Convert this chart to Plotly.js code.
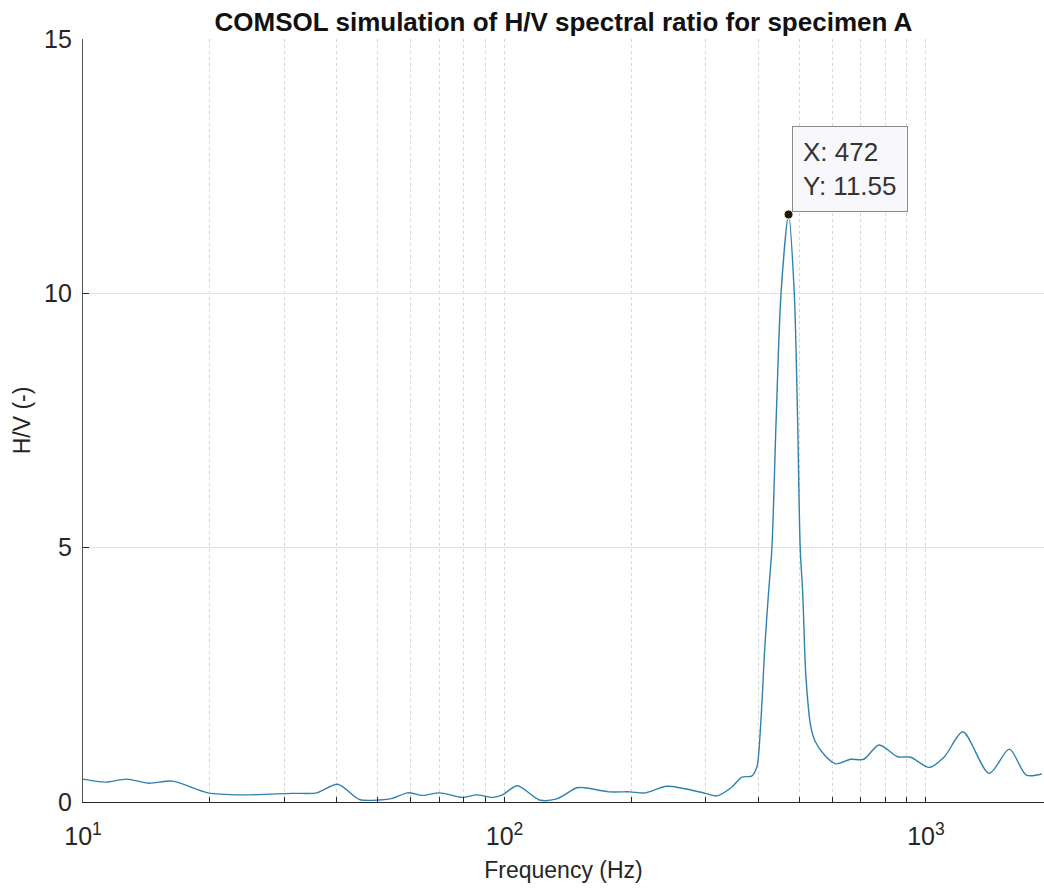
<!DOCTYPE html>
<html>
<head>
<meta charset="utf-8">
<script src="https://cdn.plot.ly/plotly-3.0.1.min.js"></script>
<style>html,body{margin:0;padding:0;background:#fff;}#chart{width:1044px;height:888px;}</style>
</head>
<body>
<div id="chart"></div>
<script>
// Frequency (Hz) and H/V spectral ratio
const freq = [10, 11.3, 12.7, 14.3, 16.3, 19.8, 23.9, 31.4, 35.9, 40.2, 45.3, 50.6, 54.2, 58.9, 64, 70.1, 79.5, 85.9, 93.7, 98.9, 107.3, 121, 133, 148.5, 155, 177, 198, 216, 243, 300, 319, 346, 366, 386, 397, 405, 415, 423, 431, 441, 453, 472, 487, 496, 503, 510, 519, 533, 546, 575, 611, 662, 712, 774, 856, 920, 1018, 1106, 1223, 1412, 1577, 1729, 1883];
const hv = [0.45, 0.39, 0.45, 0.37, 0.41, 0.18, 0.14, 0.17, 0.18, 0.35, 0.05, 0.04, 0.07, 0.18, 0.13, 0.18, 0.09, 0.14, 0.09, 0.14, 0.32, 0.04, 0.06, 0.28, 0.28, 0.2, 0.2, 0.18, 0.31, 0.17, 0.12, 0.29, 0.49, 0.51, 0.69, 1.48, 3.1, 4.1, 5.0, 7.5, 10.0, 11.55, 10.0, 7.5, 5.0, 4.1, 2.46, 1.48, 1.19, 0.92, 0.75, 0.84, 0.84, 1.12, 0.89, 0.88, 0.68, 0.89, 1.38, 0.56, 1.04, 0.53, 0.55];
const peakIndex = 41; // data tip point (X: 472, Y: 11.55)
const gridFreqs = [10,20,30,40,50,60,70,80,90,100,200,300,400,500,600,700,800,900,1000];
const decadeLabels = {10: '10<sup>1</sup>', 100: '10<sup>2</sup>', 1000: '10<sup>3</sup>'};
const titleText = 'COMSOL simulation of H/V spectral ratio for specimen A';
const xTitle = 'Frequency (Hz)';
const yTitle = 'H/V (-)';
const yTicks = [0, 5, 10, 15];

const font = 'Liberation Sans, Arial, Helvetica, sans-serif';
const px = freq[peakIndex], py = hv[peakIndex];

const traces = [
  {x: freq, y: hv, type: 'scatter', mode: 'lines',
   line: {color: '#2f82ad', width: 1.4, shape: 'spline', smoothing: 0.8},
   hoverinfo: 'x+y', showlegend: false},
  {x: [px], y: [py], type: 'scatter', mode: 'markers',
   marker: {color: '#1c1c14', size: 9, line: {color: '#fff8d8', width: 1}},
   showlegend: false}
];

const layout = {
  width: 1044, height: 888,
  margin: {l: 83, r: 0, t: 39, b: 86, pad: 0},
  paper_bgcolor: '#ffffff', plot_bgcolor: '#ffffff',
  font: {family: font, color: '#262626'},
  title: {text: '<b>' + titleText + '</b>', font: {family: font, size: 26, color: '#111'},
          x: 0.5, xref: 'paper', xanchor: 'center', y: 1 - 22/888, yref: 'container', yanchor: 'middle'},
  xaxis: {
    type: 'log', range: [1, 3.28],
    tickmode: 'array', tickvals: gridFreqs,
    ticktext: gridFreqs.map(v => decadeLabels[v] || ''),
    ticks: 'inside', ticklen: 5, tickcolor: '#262626', tickwidth: 1,
    ticklabelstandoff: 12,
    showgrid: true, gridcolor: '#d6d6d6', griddash: 'dot', gridwidth: 1,
    showline: true, linecolor: '#262626', linewidth: 1.2,
    zeroline: false, mirror: false,
    tickfont: {family: font, size: 25, color: '#262626'},
    title: {text: xTitle, font: {family: font, size: 23, color: '#262626'}, standoff: 12}
  },
  yaxis: {
    range: [0, 15], tickmode: 'array', tickvals: yTicks, ticktext: yTicks.map(String),
    ticks: 'inside', ticklen: 6, tickcolor: '#262626', tickwidth: 1,
    ticklabelstandoff: 5,
    showgrid: true, gridcolor: '#e3e3e3', gridwidth: 1,
    showline: true, linecolor: '#555', linewidth: 1.2,
    zeroline: false, mirror: false,
    tickfont: {family: font, size: 25, color: '#262626'},
    title: {text: yTitle, font: {family: font, size: 23, color: '#262626'}, standoff: 7}
  },
  annotations: [{
    x: Math.log10(px), y: py, xref: 'x', yref: 'y',
    text: 'X: ' + px + '<br>Y: ' + py.toFixed(2),
    showarrow: false, xanchor: 'left', yanchor: 'bottom', align: 'left',
    xshift: 3, yshift: 2,
    font: {family: font, size: 26, color: '#333'},
    bgcolor: '#f8f8fc', bordercolor: '#8a8a8a', borderwidth: 1, borderpad: 10
  }]
};

Plotly.newPlot('chart', traces, layout, {displayModeBar: false, staticPlot: true});
</script>
</body>
</html>
